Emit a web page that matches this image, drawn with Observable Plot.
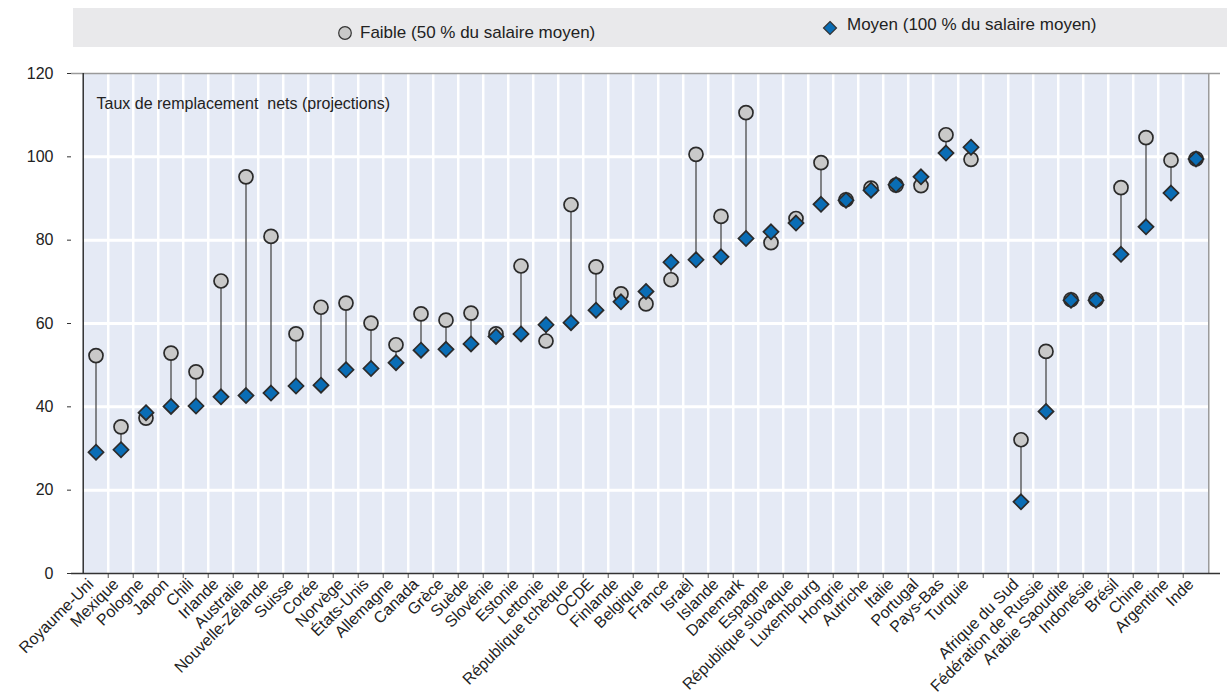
<!DOCTYPE html>
<html>
<head>
<meta charset="utf-8">
<script src="https://cdn.jsdelivr.net/npm/d3@7"></script>
<script src="https://cdn.jsdelivr.net/npm/@observablehq/plot@0.6"></script>
<style>
  body { margin: 0; background: #fff; font-family: "Liberation Sans", Arial, sans-serif; }
  #wrap { position: relative; width: 1227px; height: 696px; }
  #legend { position: absolute; left: 73px; top: 8px; width: 1154px; height: 39px; background: #E9E9EB; }
  .item { position: absolute; display: flex; align-items: center; font-size: 17px; color: #222; white-space: nowrap; }
  .item svg { margin-right: 5px; }
  #chart { position: absolute; left: 0; top: 55px; }
  #chart svg text { white-space: pre; }
</style>
</head>
<body>
<div id="wrap">
  <div id="legend">
    <div class="item" style="left:264px; top:15px;">
      <svg width="16" height="16"><circle cx="8" cy="8" r="6.3" fill="#C9C9C9" stroke="#333" stroke-width="1.2"/></svg>
      <span style="margin-left:2px">Faible (50 % du salaire moyen)</span>
    </div>
    <div class="item" style="left:749px; top:10px;">
      <svg width="16" height="16"><path d="M8,1.5L14.5,8L8,14.5L1.5,8Z" fill="#0A6DB5" stroke="#333" stroke-width="1.2"/></svg>
      <span style="margin-left:4px; position:relative; top:-3px">Moyen (100 % du salaire moyen)</span>
    </div>
  </div>
  <div id="chart"></div>
</div>
<script>
const countries = ["Royaume-Uni","Mexique","Pologne","Japon","Chili","Irlande","Australie","Nouvelle-Zélande","Suisse","Corée","Norvège","États-Unis","Allemagne","Canada","Grèce","Suède","Slovénie","Estonie","Lettonie","République tchèque","OCDE","Finlande","Belgique","France","Israël","Islande","Danemark","Espagne","République slovaque","Luxembourg","Hongrie","Autriche","Italie","Portugal","Pays-Bas","Turquie"];
const others = ["Afrique du Sud","Fédération de Russie","Arabie Saoudite","Indonésie","Brésil","Chine","Argentine","Inde"];
const gap = " ";
const lowValues = [52.3,35.2,37.3,52.9,48.4,70.2,95.2,80.9,57.5,63.9,64.9,60.1,54.9,62.3,60.8,62.5,57.5,73.8,55.8,88.5,73.6,67.1,64.7,70.5,100.6,85.7,110.6,79.4,85.2,98.6,89.7,92.5,93.2,93.1,105.3,99.4,
                   32.1,53.3,65.7,65.7,92.6,104.6,99.2,99.5];
const midValues = [29.1,29.7,38.6,40.1,40.2,42.4,42.7,43.3,45.0,45.2,48.9,49.2,50.6,53.6,53.8,55.1,56.9,57.5,59.7,60.2,63.2,65.2,67.7,74.7,75.3,76.0,80.4,82.0,84.1,88.6,89.6,92.0,93.3,95.2,100.9,102.3,
                   17.2,38.9,65.6,65.6,76.6,83.2,91.3,99.5];
const yTicks = [0,20,40,60,80,100,120];
const annotation = "Taux de remplacement  nets (projections)";

const names = countries.concat(others);
const domain = countries.concat([gap], others);
const data = names.map((c, i) => ({c, low: lowValues[i], mid: midValues[i]}));

const W = 1227, H = 641, mL = 71, mR = 7, mT = 18, mB = 123;
const bw = (W - mL - mR) / domain.length;
const font = '"Liberation Sans", Arial, sans-serif';
const plotBg = "#E5EAF5";

const chart = Plot.plot({
  width: W, height: H,
  marginLeft: mL, marginRight: mR, marginTop: mT, marginBottom: mB,
  style: {fontFamily: font, color: "#222"},
  x: {type: "band", domain, padding: 0, axis: null},
  y: {domain: [0, 120], axis: null},
  marks: [
    Plot.rectY([0], {x1: domain[0], x2: domain[domain.length - 1], y1: 0, y2: 120, fill: plotBg}),
    Plot.barY(domain, {x: d => d, y1: 0, y2: 120, fill: plotBg, insetLeft: -0.5, insetRight: -0.5}),
    Plot.ruleY(yTicks.slice(1, -1), {stroke: "white", strokeWidth: 3}),
    Plot.ruleX(domain.slice(1), {x: d => d, y1: 0, y2: 120, dx: -bw / 2, stroke: "white", strokeWidth: 2.5}),
    Plot.ruleY([120], {stroke: "#9a9a9a", strokeWidth: 1.5}),
    Plot.ruleX([domain[domain.length - 1]], {x: d => d, y1: 0, y2: 120, dx: bw / 2, stroke: "#9a9a9a", strokeWidth: 1.5}),
    Plot.ruleX(domain.slice(1), {x: d => d, y1: 0, y2: -1.2, dx: -bw / 2, stroke: "#555", strokeWidth: 1}),
    Plot.ruleY([0], {stroke: "#333", strokeWidth: 1.5}),
    Plot.ruleX([domain[0]], {x: d => d, y1: -0.2, y2: 120, dx: -bw / 2, stroke: "#333", strokeWidth: 1.5}),
    Plot.axisY({ticks: yTicks, tickSize: 4, tickPadding: 14, fontSize: 16, label: null, stroke: "#333"}),
    Plot.axisX({tickSize: 0, tickPadding: 8, tickRotate: -45, fontSize: 16, label: null, dx: -5, tickFormat: d => d.trim()}),
    Plot.text([annotation], {frameAnchor: "top-left", dx: 25, dy: 24, textAnchor: "start", lineAnchor: "top", fontSize: 16, fill: "#222"}),
    Plot.ruleX(data, {x: "c", y1: "low", y2: "mid", stroke: "#4a4a4a", strokeWidth: 1.3}),
    Plot.dot(data, {x: "c", y: "low", r: 7, fill: "#C9C9C9", stroke: "#2b2b2b", strokeWidth: 1.7}),
    Plot.dot(data, {x: "c", y: "mid", symbol: "diamond2", r: 6.8, fill: "#0A6DB5", stroke: "#2b2b2b", strokeWidth: 1.7})
  ]
});
document.getElementById("chart").appendChild(chart);
</script>
</body>
</html>
